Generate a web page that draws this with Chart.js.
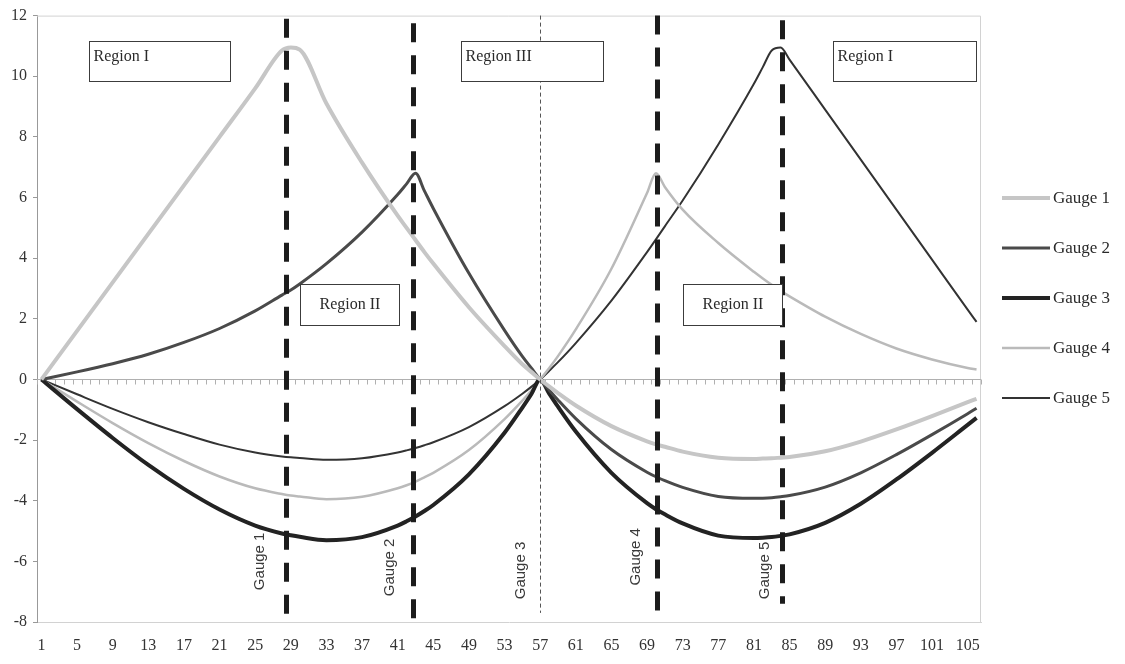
<!DOCTYPE html>
<html>
<head>
<meta charset="utf-8">
<script src="https://cdn.jsdelivr.net/npm/chart.js@4.4.1/dist/chart.umd.min.js"></script>
<style>
  body { margin: 0; background: #fff; }
</style>
</head>
<body>
<canvas id="chart" width="1125" height="664"></canvas>
<script>
// categories 1..106 along the x axis
const categories = Array.from({ length: 106 }, (_, i) => String(i + 1));

const sampleAt = [1, 5, 9, 13, 17, 21, 25, 28, 29, 30, 33, 37, 41, 42, 43, 44, 45, 49, 53, 55, 56, 57,
  58, 59, 61, 65, 69, 70, 71, 73, 77, 81, 82, 83, 84, 85, 89, 93, 97, 101, 105, 106];

const gauge1 = [0, 1.6, 3.2, 4.8, 6.4, 8.0, 9.6, 10.85, 10.95, 10.88, 9.1, 7.15, 5.4, 5.0, 4.6, 4.2, 3.82, 2.38, 1.1, 0.5, 0.25, 0,
  -0.23, -0.45, -0.86, -1.54, -2.04, -2.14, -2.22, -2.38, -2.58, -2.62, -2.61, -2.6, -2.58, -2.56, -2.37, -2.05, -1.65, -1.21, -0.75, -0.64];
const gauge2 = [0, 0.25, 0.52, 0.83, 1.22, 1.68, 2.26, 2.78, 2.95, 3.15, 3.82, 4.86, 6.1, 6.45, 6.8, 6.22, 5.64, 3.5, 1.62, 0.76, 0.38, 0,
  -0.345, -0.675, -1.29, -2.31, -3.06, -3.21, -3.34, -3.56, -3.86, -3.92, -3.915, -3.9, -3.87, -3.83, -3.55, -3.08, -2.48, -1.82, -1.13, -0.95];
const gauge3 = [0, -0.98, -1.93, -2.82, -3.61, -4.29, -4.82, -5.08, -5.14, -5.19, -5.3, -5.2, -4.82, -4.68, -4.52, -4.34, -4.14, -3.13, -1.76, -0.93, -0.49, 0,
  -0.46, -0.9, -1.72, -3.08, -4.08, -4.28, -4.45, -4.75, -5.15, -5.23, -5.22, -5.2, -5.16, -5.11, -4.73, -4.1, -3.3, -2.42, -1.5, -1.27];
const gauge4 = [0, -0.73, -1.44, -2.1, -2.69, -3.2, -3.59, -3.78, -3.83, -3.86, -3.95, -3.87, -3.59, -3.49, -3.37, -3.23, -3.08, -2.33, -1.31, -0.7, -0.37, 0,
  0.37, 0.77, 1.65, 3.65, 6.15, 6.8, 6.35, 5.6, 4.5, 3.55, 3.33, 3.12, 2.92, 2.74, 2.07, 1.5, 1.02, 0.66, 0.38, 0.33];
const gauge5 = [0, -0.49, -0.97, -1.41, -1.8, -2.15, -2.41, -2.54, -2.57, -2.59, -2.65, -2.6, -2.41, -2.34, -2.26, -2.17, -2.07, -1.57, -0.88, -0.47, -0.245, 0,
  0.28, 0.57, 1.2, 2.6, 4.2, 4.62, 5.05, 5.9, 7.75, 9.75, 10.3, 10.85, 10.95, 10.55, 8.9, 7.25, 5.6, 3.95, 2.3, 1.9];

const seriesNames = ['Gauge 1', 'Gauge 2', 'Gauge 3', 'Gauge 4', 'Gauge 5'];
const seriesValues = [gauge1, gauge2, gauge3, gauge4, gauge5];
const yTicks = [-8, -6, -4, -2, 0, 2, 4, 6, 8, 10, 12];

// gauge locations (category) and the region notes
const gaugeAt = [28.5, 42.7, 57, 70.1, 84.2];

const lineStyles = [
  { color: '#c6c6c6', width: 4 },
  { color: '#4a4a4a', width: 3 },
  { color: '#232323', width: 4 },
  { color: '#bababa', width: 2.5 },
  { color: '#333333', width: 2 }
];

// annotation layout: gauge marker spans (y values), label anchors, region boxes
const markers = [
  { top: 11.9, bottom: -8, thin: false, label: [25.5, -6.0] },
  { top: 11.75, bottom: -8, thin: false, label: [40.1, -6.2] },
  { top: 12, bottom: -7.7, thin: true, label: [54.8, -6.3] },
  { top: 12, bottom: -7.85, thin: false, label: [67.7, -5.85] },
  { top: 11.85, bottom: -7.4, thin: false, label: [82.2, -6.3] }
];
const regions = [
  { text: 'Region I', x0: 6.3, x1: 22.2, yTop: 11.15, yBot: 9.83, center: false },
  { text: 'Region III', x0: 48.1, x1: 64.0, yTop: 11.15, yBot: 9.83, center: false },
  { text: 'Region I', x0: 89.9, x1: 105.9, yTop: 11.15, yBot: 9.83, center: false },
  { text: 'Region II', x0: 30.0, x1: 41.2, yTop: 3.16, yBot: 1.78, center: true },
  { text: 'Region II', x0: 73.0, x1: 84.2, yTop: 3.16, yBot: 1.78, center: true }
];

const serif = 'Liberation Serif, Times New Roman, serif';

const overlay = {
  id: 'overlay',
  beforeDatasetsDraw(chart) {
    const { ctx, chartArea: a, scales: { x, y } } = chart;
    ctx.save();
    // frame (top and right)
    ctx.strokeStyle = '#d2d2d2';
    ctx.lineWidth = 1;
    ctx.beginPath();
    ctx.moveTo(a.left, a.top + 0.5);
    ctx.lineTo(a.right - 0.5, a.top + 0.5);
    ctx.lineTo(a.right - 0.5, a.bottom);
    ctx.stroke();

    // horizontal axis through zero with a tick between categories
    const y0 = Math.round(y.getPixelForValue(0)) + 0.5;
    const half = (x.getPixelForValue(1) - x.getPixelForValue(0)) / 2;
    ctx.strokeStyle = '#b0b0b0';
    ctx.beginPath();
    ctx.moveTo(a.left, y0);
    ctx.lineTo(a.right, y0);
    for (let i = 0; i <= categories.length; i++) {
      const px = Math.round(x.getPixelForValue(i) - half) + 0.5;
      ctx.moveTo(px, y0);
      ctx.lineTo(px, y0 + 5);
    }
    ctx.stroke();

    // rotated gauge labels (sit under the curves)
    ctx.fillStyle = '#3a3a3a';
    ctx.font = '15px Liberation Sans, Arial, sans-serif';
    ctx.textAlign = 'center';
    ctx.textBaseline = 'middle';
    markers.forEach((m, i) => {
      ctx.save();
      ctx.translate(x.getPixelForValue(m.label[0] - 1), y.getPixelForValue(m.label[1]));
      ctx.rotate(-Math.PI / 2);
      ctx.fillText(seriesNames[i], 0, 0);
      ctx.restore();
    });
    ctx.restore();
  },
  afterDatasetsDraw(chart) {
    const { ctx, scales: { x, y } } = chart;
    ctx.save();
    // gauge markers
    markers.forEach((m, i) => {
      const px = Math.round(x.getPixelForValue(gaugeAt[i] - 1)) + 0.5;
      ctx.beginPath();
      if (m.thin) {
        ctx.strokeStyle = '#555';
        ctx.lineWidth = 1;
        ctx.setLineDash([4, 3]);
      } else {
        ctx.strokeStyle = '#1c1c1c';
        ctx.lineWidth = 5;
        ctx.setLineDash([19, 13]);
      }
      ctx.moveTo(px, y.getPixelForValue(m.top));
      ctx.lineTo(px, y.getPixelForValue(m.bottom));
      ctx.stroke();
    });
    ctx.setLineDash([]);

    // region notes
    ctx.font = '16px ' + serif;
    ctx.textBaseline = 'alphabetic';
    regions.forEach(r => {
      const l = Math.round(x.getPixelForValue(r.x0 - 1)) + 0.5;
      const rr = Math.round(x.getPixelForValue(r.x1 - 1)) + 0.5;
      const t = Math.round(y.getPixelForValue(r.yTop)) + 0.5;
      const b = Math.round(y.getPixelForValue(r.yBot)) + 0.5;
      ctx.fillStyle = '#fff';
      ctx.fillRect(l, t, rr - l, b - t);
      ctx.strokeStyle = '#3c3c3c';
      ctx.lineWidth = 1;
      ctx.strokeRect(l, t, rr - l, b - t);
      ctx.fillStyle = '#2a2a2a';
      if (r.center) {
        ctx.textAlign = 'center';
        ctx.fillText(r.text, (l + rr) / 2, t + 24);
      } else {
        ctx.textAlign = 'left';
        ctx.fillText(r.text, l + 4, t + 19);
      }
    });

    // legend on the right
    ctx.textAlign = 'left';
    ctx.textBaseline = 'middle';
    ctx.font = '17px ' + serif;
    seriesNames.forEach((name, i) => {
      const ly = 198 + i * 50;
      ctx.strokeStyle = lineStyles[i].color;
      ctx.lineWidth = lineStyles[i].width;
      ctx.beginPath();
      ctx.moveTo(1002, ly);
      ctx.lineTo(1050, ly);
      ctx.stroke();
      ctx.fillStyle = '#2a2a2a';
      ctx.fillText(name, 1053, ly + 1);
    });
    ctx.restore();
  }
};

const datasets = seriesNames.map((name, k) => ({
  label: name,
  data: sampleAt.map((c, i) => ({ x: String(c), y: seriesValues[k][i] })),
  borderColor: lineStyles[k].color,
  borderWidth: lineStyles[k].width,
  backgroundColor: lineStyles[k].color,
  cubicInterpolationMode: 'monotone',
  pointRadius: 0,
  fill: false
}));

new Chart(document.getElementById('chart').getContext('2d'), {
  type: 'line',
  data: { labels: categories, datasets: datasets },
  options: {
    responsive: false,
    devicePixelRatio: 1,
    animation: false,
    layout: { padding: { top: 14, right: 144, left: 0, bottom: 0 } },
    plugins: { legend: { display: false }, tooltip: { enabled: false } },
    scales: {
      x: {
        offset: true,
        grid: { display: false, drawTicks: false },
        border: { color: '#d2d2d2' },
        ticks: {
          autoSkip: false,
          maxRotation: 0,
          padding: 14,
          color: '#333',
          font: { family: serif, size: 16 },
          callback: (v, i) => (i % 4 === 0 ? categories[i] : '')
        },
        afterFit: s => { s.height = 42; }
      },
      y: {
        min: yTicks[0],
        max: yTicks[yTicks.length - 1],
        afterBuildTicks: s => { s.ticks = yTicks.map(v => ({ value: v })); },
        ticks: { padding: 6, color: '#333', font: { family: serif, size: 16 } },
        grid: { drawOnChartArea: false, tickLength: 4, color: '#999' },
        border: { color: '#999' },
        afterFit: s => { s.width = 37; }
      }
    }
  },
  plugins: [overlay]
});
</script>
</body>
</html>
